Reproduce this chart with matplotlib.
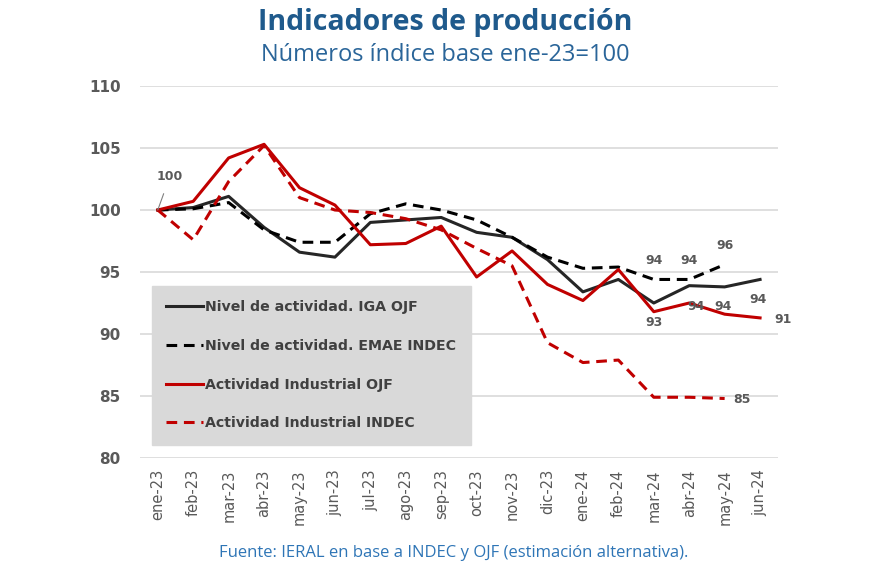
### Indicadores de produccion - numeros indice base ene-23=100
import numpy as np
import matplotlib.pyplot as plt

### DATA ###
meses = ['ene-23', 'feb-23', 'mar-23', 'abr-23', 'may-23', 'jun-23', 'jul-23',
         'ago-23', 'sep-23', 'oct-23', 'nov-23', 'dic-23', 'ene-24', 'feb-24',
         'mar-24', 'abr-24', 'may-24', 'jun-24']

iga_ojf = [100.0, 100.2, 101.1, 98.6, 96.6, 96.2, 99.0, 99.2, 99.4, 98.2, 97.8,
           96.0, 93.4, 94.4, 92.5, 93.9, 93.8, 94.4]
emae_indec = [100.0, 100.1, 100.6, 98.4, 97.4, 97.4, 99.7, 100.5, 100.0, 99.2,
              97.8, 96.2, 95.3, 95.4, 94.4, 94.4, 95.6]
ind_ojf = [100.0, 100.7, 104.2, 105.3, 101.8, 100.4, 97.2, 97.3, 98.7, 94.6,
           96.7, 94.0, 92.7, 95.2, 91.8, 92.5, 91.6, 91.3]
ind_indec = [100.0, 97.6, 102.3, 105.2, 101.0, 100.0, 99.8, 99.3, 98.4, 96.9,
             95.5, 89.3, 87.7, 87.9, 84.9, 84.9, 84.8]

ROJO = '#c00000'
GRIS = '#595959'

### PLOT ###
fig = plt.figure(figsize=(8.7, 5.8), dpi=100)
ax = fig.add_axes([0.161, 0.2103, 0.733, 0.6414])

x = np.arange(len(meses))
ax.plot(x[:len(iga_ojf)], iga_ojf, color='#262626', lw=2.2,
        label='Nivel de actividad. IGA OJF')
ax.plot(x[:len(emae_indec)], emae_indec, color='black', lw=2.2, ls=(0, (3.5, 2.2)),
        label='Nivel de actividad. EMAE INDEC')
ax.plot(x[:len(ind_ojf)], ind_ojf, color=ROJO, lw=2.2,
        label='Actividad Industrial OJF')
ax.plot(x[:len(ind_indec)], ind_indec, color=ROJO, lw=2.2, ls=(0, (3.5, 2.2)),
        label='Actividad Industrial INDEC')

ax.set_xlim(-0.5, len(meses) - 0.5)
ax.set_ylim(80, 110)
ax.set_yticks(np.arange(80, 111, 5))
ax.set_xticks(x)
ax.set_xticklabels(meses, rotation=90, fontsize=10.5, color=GRIS)
ax.tick_params(axis='y', labelsize=11, labelcolor=GRIS, length=0, pad=14)
ax.tick_params(axis='x', length=0, pad=8)
for lab in ax.get_yticklabels():
    lab.set_fontweight('bold')
ax.grid(axis='y', color='#d9d9d9', lw=1.2)
ax.set_axisbelow(True)
for s in ax.spines.values():
    s.set_visible(False)

# data labels
lab_kw = dict(fontsize=9, color=GRIS, fontweight='bold', ha='center', va='center')
ax.annotate('100', xy=(0, 100), xytext=(0.34, 102.7), fontsize=9, color=GRIS,
            fontweight='bold', ha='center', va='center',
            arrowprops=dict(arrowstyle='-', color='#808080', lw=0.8, shrinkA=6, shrinkB=0))
ax.text(14, 95.9, '94', **lab_kw)
ax.text(15, 95.9, '94', **lab_kw)
ax.text(16, 97.1, '96', **lab_kw)
ax.text(14, 90.9, '93', **lab_kw)
ax.text(15.2, 92.2, '94', **lab_kw)
ax.text(15.95, 92.2, '94', **lab_kw)
ax.text(16.95, 92.8, '94', **lab_kw)
ax.text(17.65, 91.2, '91', **lab_kw)
ax.text(16.5, 84.7, '85', **lab_kw)

leg = ax.legend(loc='upper left', bbox_to_anchor=(0.007, 0.482), frameon=True,
                fancybox=False, facecolor='#d9d9d9', edgecolor='#d9d9d9',
                framealpha=1, handlelength=2.6, handletextpad=0.2,
                labelspacing=1.75, borderpad=1.0,
                prop={'size': 10.2, 'weight': 'bold'})
for t in leg.get_texts():
    t.set_color('#404040')

fig.text(0.512, 0.962, 'Indicadores de producción', ha='center', va='center',
         fontsize=20.5, fontweight='bold', color='#1f5a8c', family='Open Sans')
fig.text(0.512, 0.906, 'Números índice base ene-23=100', ha='center', va='center',
         fontsize=17, color='#2a6599', family='Open Sans')
fig.text(0.521, 0.046, 'Fuente: IERAL en base a INDEC y OJF (estimación alternativa).',
         ha='center', va='center', fontsize=12, color='#2e75b6', family='Open Sans')

fig.savefig('out.png', dpi=100)
